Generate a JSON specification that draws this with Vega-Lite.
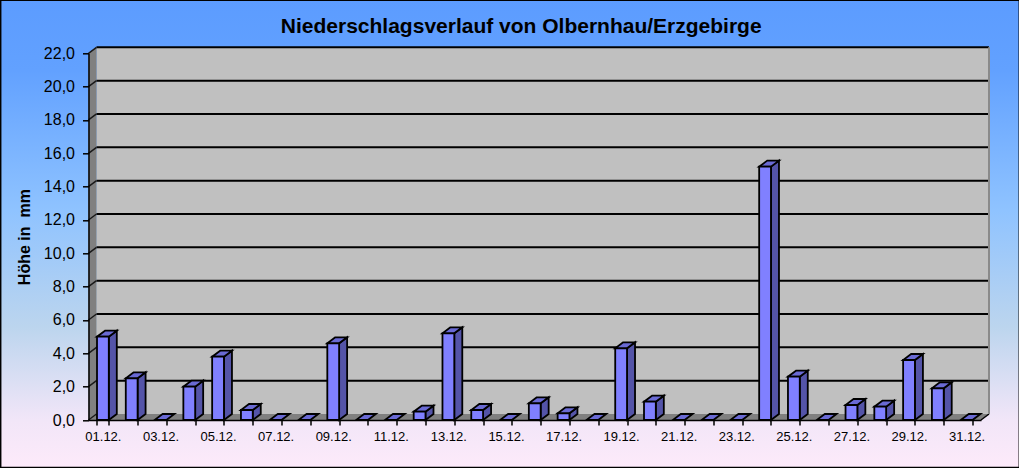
{
"$schema":"https://vega.github.io/schema/vega-lite/v6.json",
"width":892.5,"height":366.7,
"autosize":{"type":"none"},
"padding":{"left":88.5,"top":53.3,"right":38,"bottom":48},
"background":"#ffffff",
"datasets":{
"bars":[
{"day":1,"label":"01.12.","v":5.0},{"day":2,"label":"02.12.","v":2.5},{"day":3,"label":"03.12.","v":0},{"day":4,"label":"04.12.","v":2.0},{"day":5,"label":"05.12.","v":3.8},{"day":6,"label":"06.12.","v":0.6},{"day":7,"label":"07.12.","v":0},{"day":8,"label":"08.12.","v":0},{"day":9,"label":"09.12.","v":4.6},{"day":10,"label":"10.12.","v":0},{"day":11,"label":"11.12.","v":0},{"day":12,"label":"12.12.","v":0.5},{"day":13,"label":"13.12.","v":5.2},{"day":14,"label":"14.12.","v":0.6},{"day":15,"label":"15.12.","v":0},{"day":16,"label":"16.12.","v":1.0},{"day":17,"label":"17.12.","v":0.4},{"day":18,"label":"18.12.","v":0},{"day":19,"label":"19.12.","v":4.3},{"day":20,"label":"20.12.","v":1.1},{"day":21,"label":"21.12.","v":0},{"day":22,"label":"22.12.","v":0},{"day":23,"label":"23.12.","v":0},{"day":24,"label":"24.12.","v":15.2},{"day":25,"label":"25.12.","v":2.6},{"day":26,"label":"26.12.","v":0},{"day":27,"label":"27.12.","v":0.9},{"day":28,"label":"28.12.","v":0.8},{"day":29,"label":"29.12.","v":3.6},{"day":30,"label":"30.12.","v":1.9},{"day":31,"label":"31.12.","v":0}],
"grid":[{"g":0},{"g":2},{"g":4},{"g":6},{"g":8},{"g":10},{"g":12},{"g":14},{"g":16},{"g":18},{"g":20},{"g":22}]
},
"resolve":{"scale":{"x":"independent"},"axis":{"x":"independent","y":"independent"}},
"layer":[
{"data":{"values":[{}]},
 "mark":{"type":"rect","stroke":"#000000","strokeWidth":1.5,"fill":{"gradient":"linear","x1":0,"y1":0,"x2":0,"y2":1,"stops":[{"offset":0,"color":"#5c9cff"},{"offset":0.15,"color":"#62a1ff"},{"offset":0.45,"color":"#8fc3ff"},{"offset":0.7,"color":"#bcd5ee"},{"offset":0.9,"color":"#f2e6f8"},{"offset":1,"color":"#fdeafa"}]}},
 "encoding":{
  "x":{"datum":-3.05,"type":"quantitative","scale":{"domain":[0,31],"nice":false,"zero":false},"axis":null},
  "x2":{"datum":32.33},
  "y":{"datum":25.18,"type":"quantitative","scale":{"domain":[0,22],"nice":false,"zero":false},"axis":null},
  "y2":{"datum":-2.85}
 }},
{"data":{"values":[{}]},
 "mark":{"type":"rect","fill":"#c0c0c0"},
 "encoding":{
  "x":{"datum":0.278,"type":"quantitative","scale":{"domain":[0,31],"nice":false,"zero":false},"axis":null},
  "x2":{"datum":31.278},
  "y":{"datum":0.36,"type":"quantitative","axis":null},
  "y2":{"datum":22.36}
 }},
{"data":{"values":[{"t":0},{"t":1}]},
 "transform":[{"calculate":"datum.t*0.278","as":"wx"},{"calculate":"datum.t*0.36","as":"wy"},{"calculate":"22+datum.t*0.36","as":"wy2"}],
 "mark":{"type":"area","fill":"#808080"},
 "encoding":{
  "x":{"field":"wx","type":"quantitative","scale":{"domain":[0,31],"nice":false,"zero":false},"axis":null},
  "y":{"field":"wy","type":"quantitative","axis":null},
  "y2":{"field":"wy2"}
 }},
{"data":{"values":[{"fx":0,"fa":0,"fb":0},{"fx":0.278,"fa":0,"fb":0.36},{"fx":31,"fa":0,"fb":0.36},{"fx":31.278,"fa":0.36,"fb":0.36}]},
 "mark":{"type":"area","fill":"#808080"},
 "encoding":{
  "x":{"field":"fx","type":"quantitative","scale":{"domain":[0,31],"nice":false,"zero":false},"axis":null},
  "y":{"field":"fa","type":"quantitative","axis":null},
  "y2":{"field":"fb"}
 }},
{"data":{"name":"grid"},
 "transform":[{"filter":"datum.g>0"},{"calculate":"datum.g+0.36","as":"gb"}],
 "mark":{"type":"rule","color":"#000000","strokeWidth":2},
 "encoding":{
  "x":{"datum":0.278,"type":"quantitative","scale":{"domain":[0,31],"nice":false,"zero":false},"axis":null},
  "x2":{"datum":31.278},
  "y":{"field":"gb","type":"quantitative","axis":null}
 }},
{"data":{"name":"grid"},
 "transform":[{"calculate":"datum.g+0.36","as":"gb"}],
 "mark":{"type":"rule","color":"#1a1a1a","strokeWidth":1.5},
 "encoding":{
  "x":{"datum":0,"type":"quantitative","scale":{"domain":[0,31],"nice":false,"zero":false},"axis":null},
  "x2":{"datum":0.278},
  "y":{"field":"g","type":"quantitative","axis":null},
  "y2":{"field":"gb"}
 }},
{"data":{"values":[{}]},
 "mark":{"type":"rule","color":"#000000","strokeWidth":1.5},
 "encoding":{
  "x":{"datum":31,"type":"quantitative","scale":{"domain":[0,31],"nice":false,"zero":false},"axis":null},
  "x2":{"datum":31.278},
  "y":{"datum":0,"type":"quantitative","axis":null},
  "y2":{"datum":0.36}
 }},
{"data":{"values":[{}]},
 "mark":{"type":"rule","color":"#8a8a8a","strokeWidth":2},
 "encoding":{
  "x":{"datum":31.278,"type":"quantitative","scale":{"domain":[0,31],"nice":false,"zero":false},"axis":null},
  "y":{"datum":0.36,"type":"quantitative","axis":null},
  "y2":{"datum":22.36}
 }},
{"data":{"name":"bars"},
 "transform":[{"filter":"datum.v>0"},{"calculate":"[0,1]","as":"t"},{"flatten":["t"]},{"calculate":"datum.day-0.295+datum.t*0.278","as":"sx"},{"calculate":"datum.t*0.36","as":"sy"},{"calculate":"datum.v+datum.t*0.36","as":"sy2"}],
 "mark":{"type":"area","fill":"#5454a8","stroke":"#000000","strokeWidth":1.8},
 "encoding":{
  "x":{"field":"sx","type":"quantitative","scale":{"domain":[0,31],"nice":false,"zero":false},"axis":null},
  "y":{"field":"sy","type":"quantitative","axis":null},
  "y2":{"field":"sy2"},
  "detail":{"field":"day"}
 }},
{"data":{"name":"bars"},
 "transform":[{"calculate":"[0,1]","as":"t"},{"flatten":["t"]},{"calculate":"datum.day-0.705+datum.t*0.278","as":"tl"},{"calculate":"datum.day-0.295+datum.t*0.278","as":"tr"},{"calculate":"datum.v+datum.t*0.36","as":"ty"}],
 "mark":{"type":"area","orient":"horizontal","fill":"#6a6ad4","stroke":"#000000","strokeWidth":1.8},
 "encoding":{
  "x":{"field":"tl","type":"quantitative","scale":{"domain":[0,31],"nice":false,"zero":false},"axis":null},
  "x2":{"field":"tr"},
  "y":{"field":"ty","type":"quantitative","axis":null},
  "detail":{"field":"day"}
 }},
{"data":{"name":"bars"},
 "transform":[{"filter":"datum.v>0"}],
 "mark":{"type":"bar","fill":"#8080ff","stroke":"#000000","strokeWidth":1.8},
 "encoding":{
  "x":{"field":"label","type":"nominal","sort":null,
   "scale":{"domain":["01.12.","02.12.","03.12.","04.12.","05.12.","06.12.","07.12.","08.12.","09.12.","10.12.","11.12.","12.12.","13.12.","14.12.","15.12.","16.12.","17.12.","18.12.","19.12.","20.12.","21.12.","22.12.","23.12.","24.12.","25.12.","26.12.","27.12.","28.12.","29.12.","30.12.","31.12."],"paddingInner":0.59,"paddingOuter":0.295},
   "axis":{"title":null,"zindex":1,"tickBand":"extent","labelAngle":0,"labelOverlap":false,"labelFont":"Liberation Sans","labelFontSize":13,"labelColor":"#000000","labelPadding":5,"labelExpr":"toNumber(slice(datum.label,0,2))%2==1?datum.label:''","tickColor":"#000000","tickSize":5,"tickWidth":1.5,"domainColor":"#000000","domainWidth":1.5,"grid":false}},
  "y":{"field":"v","type":"quantitative","axis":{"values":[0,2,4,6,8,10,12,14,16,18,20,22],"zindex":1,"title":"Höhe in \u00a0mm","titleFont":"Liberation Sans","titleFontSize":16,"titleFontWeight":"bold","titleColor":"#000000","titlePadding":11,"labelFont":"Liberation Sans","labelFontSize":16,"labelColor":"#000000","labelPadding":8,"labelExpr":"replace(format(datum.value,'.1f'),'.',',')","tickColor":"#000000","tickSize":6,"tickWidth":1.5,"domainColor":"#000000","domainWidth":1.5,"grid":false}}
 }},
{"data":{"values":[{"title":"Niederschlagsverlauf von Olbernhau/Erzgebirge"}]},
 "mark":{"type":"text","font":"Liberation Sans","fontSize":21,"fontWeight":"bold","color":"#000000","align":"center","baseline":"middle"},
 "encoding":{
  "x":{"datum":15.03,"type":"quantitative","scale":{"domain":[0,31],"nice":false,"zero":false},"axis":null},
  "y":{"datum":23.58,"type":"quantitative","axis":null},
  "text":{"field":"title"}
 }}
]
}
